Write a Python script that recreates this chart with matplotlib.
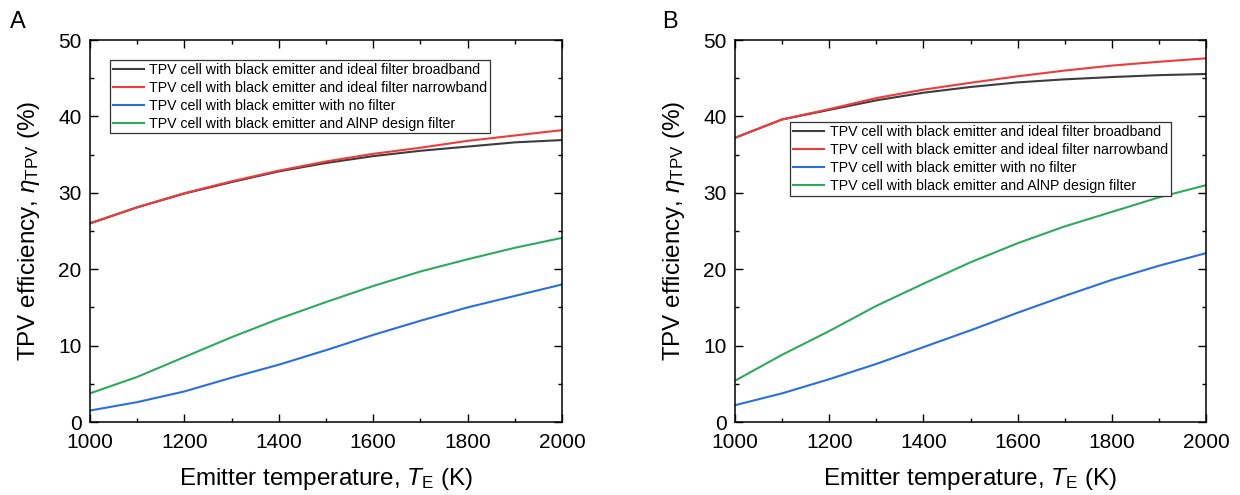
import matplotlib
matplotlib.use('Agg')
import matplotlib.pyplot as plt
from matplotlib.ticker import MultipleLocator
import numpy as np

plt.rcParams['font.family'] = ['Liberation Sans', 'DejaVu Sans']
plt.rcParams['mathtext.fontset'] = 'custom'
plt.rcParams['mathtext.rm'] = 'Liberation Sans'
plt.rcParams['mathtext.it'] = 'Liberation Sans:italic'

temps = [1000, 1100, 1200, 1300, 1400, 1500, 1600, 1700, 1800, 1900, 2000]

labels = ['TPV cell with black emitter and ideal filter broadband',
          'TPV cell with black emitter and ideal filter narrowband',
          'TPV cell with black emitter with no filter',
          'TPV cell with black emitter and AlNP design filter']
colors = ['#3d3d3d', '#ee3b3b', '#2b6fdf', '#2eaa5c']

# panel A
a_broad = [26.0, 28.1, 29.9, 31.4, 32.8, 33.9, 34.8, 35.5, 36.05, 36.6, 36.9]
a_narrow = [26.0, 28.1, 29.95, 31.5, 32.9, 34.1, 35.1, 35.9, 36.8, 37.5, 38.2]
a_nofilt = [1.5, 2.6, 4.0, 5.8, 7.5, 9.4, 11.4, 13.25, 15.0, 16.5, 18.0]
a_alnp = [3.75, 5.9, 8.5, 11.1, 13.5, 15.7, 17.8, 19.7, 21.3, 22.8, 24.1]

# panel B
b_broad = [37.2, 39.6, 40.85, 42.1, 43.1, 43.85, 44.45, 44.85, 45.15, 45.4, 45.55]
b_narrow = [37.2, 39.6, 40.95, 42.4, 43.5, 44.4, 45.25, 46.0, 46.65, 47.15, 47.6]
b_nofilt = [2.2, 3.75, 5.6, 7.6, 9.8, 12.0, 14.3, 16.5, 18.6, 20.45, 22.1]
b_alnp = [5.4, 8.8, 11.9, 15.2, 18.1, 20.9, 23.4, 25.6, 27.5, 29.4, 31.0]

fig = plt.figure(figsize=(12.4, 4.95), dpi=100)
axA = fig.add_axes([90/1240, 73/495, 472/1240, 382/495])
axB = fig.add_axes([735/1240, 73/495, 471/1240, 382/495])

panels = [(axA, [a_broad, a_narrow, a_nofilt, a_alnp], 'A', (0.042, 0.948)),
          (axB, [b_broad, b_narrow, b_nofilt, b_alnp], 'B', (0.117, 0.785))]

for ax, series, tag, anchor in panels:
    for vals, c, lab in zip(series, colors, labels):
        ax.plot(temps, vals, color=c, lw=1.5, label=lab)
    ax.set_xlim(1000, 2000)
    ax.set_ylim(0, 50)
    ax.xaxis.set_major_locator(MultipleLocator(200))
    ax.xaxis.set_minor_locator(MultipleLocator(100))
    ax.yaxis.set_major_locator(MultipleLocator(10))
    ax.yaxis.set_minor_locator(MultipleLocator(5))
    ax.tick_params(which='both', direction='in', top=True, right=True, labelsize=15, width=1.0)
    ax.tick_params(which='major', length=6)
    ax.tick_params(which='minor', length=3)
    ax.tick_params(axis='x', which='major', pad=8)
    ax.tick_params(axis='y', which='major', pad=6)
    for s in ax.spines.values():
        s.set_linewidth(1.1)
    ax.set_xlabel(r'Emitter temperature, $T_\mathrm{E}$ (K)', fontsize=17.5, labelpad=10)
    ax.set_ylabel(r'TPV efficiency, $\eta_\mathrm{TPV}$ (%)', fontsize=17.5, labelpad=12)
    lgd = ax.legend(loc='upper left', bbox_to_anchor=anchor, borderaxespad=0, fontsize=10.2,
                    handlelength=2.2, handletextpad=0.4, labelspacing=0.28, borderpad=0.2,
                    fancybox=False, framealpha=1)
    lgd.get_frame().set_edgecolor('#333333')
    lgd.get_frame().set_linewidth(0.9)

fig.text(10/1240, 1 - 22/495, 'A', fontsize=17, va='center')
fig.text(662/1240, 1 - 22/495, 'B', fontsize=17, va='center')

fig.savefig('out.png', dpi=100)
